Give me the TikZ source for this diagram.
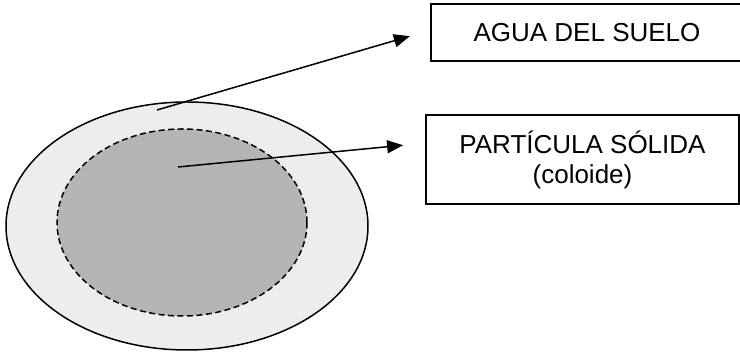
\documentclass[tikz,border=0pt]{standalone}
\usepackage{fontspec}
\setmainfont{Liberation Sans}
\usetikzlibrary{shapes.geometric,positioning,arrows.meta}

\begin{document}
\begin{tikzpicture}[x=1pt,y=1pt,
    zona/.style={ellipse, draw, line width=1.5pt, inner sep=0pt, outer sep=0pt},
    rotulo/.style={rectangle, draw, line width=1.5pt, inner sep=0pt, outer sep=0pt,
    align=center, font=\fontsize{26}{30}\selectfont},
    flecha/.style={line width=1.5pt, -{Triangle[length=16pt,width=13pt]}}
]
  \useasboundingbox (0,0) rectangle (740,352);
  \node[zona, fill=black!7, minimum width=362pt, minimum height=248pt] (agua) at (187,126) {};
  \node[zona, fill=black!29, dashed, dash pattern=on 6pt off 3.5pt,
    minimum width=250pt, minimum height=187pt] (coloide) at (182,129.5) {};
  \node[rotulo, minimum width=312pt, minimum height=57pt] (suelo) at (587,319.5) {AGUA DEL SUELO};
  \node[rotulo, minimum width=313pt, minimum height=89pt] (particula) at (582.5,192.5) {PART\'ICULA S\'OLIDA\\(coloide)};

  \coordinate (desdeagua) at (157,242);
  \coordinate (desdecoloide) at (178,185);
  \draw[flecha, shorten >=22pt] (desdeagua) -- ([yshift=2.5pt]suelo.west);
  \draw[flecha, shorten >=23pt] (desdecoloide) -- ([yshift=16.5pt]particula.west);
\end{tikzpicture}
\end{document}
